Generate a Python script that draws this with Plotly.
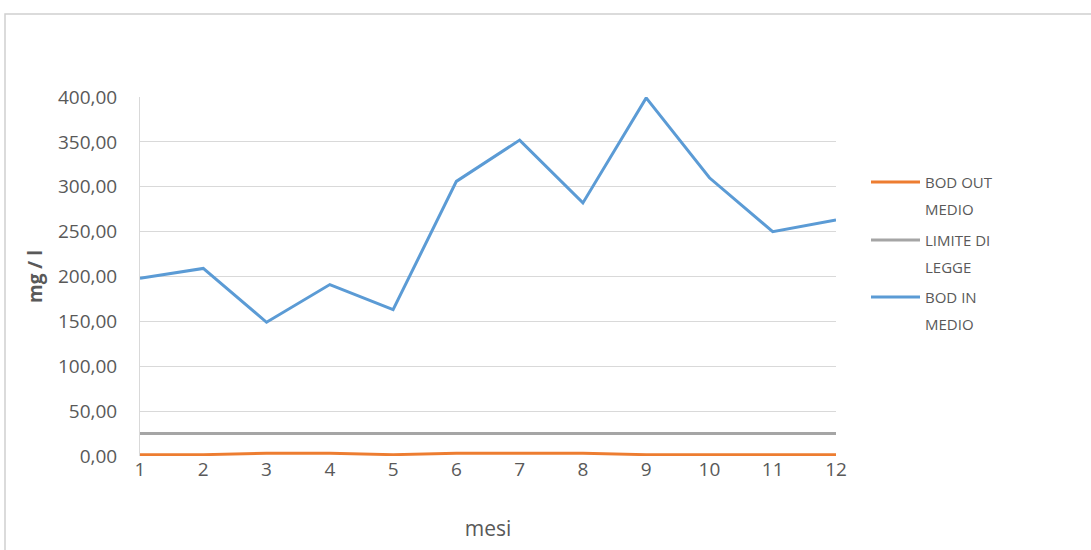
import plotly.graph_objects as go

mesi = [1, 2, 3, 4, 5, 6, 7, 8, 9, 10, 11, 12]
bod_out_medio = [1.5, 1.5, 3.0, 3.0, 1.5, 3.0, 3.0, 3.0, 1.5, 1.5, 1.5, 1.5]
limite_di_legge = [25, 25, 25, 25, 25, 25, 25, 25, 25, 25, 25, 25]
bod_in_medio = [198, 209, 149, 191, 163, 306, 352, 282, 399, 310, 250, 263]
y_ticks = [0, 50, 100, 150, 200, 250, 300, 350, 400]

series_names = [["BOD OUT", "MEDIO"], ["LIMITE DI", "LEGGE"], ["BOD IN", "MEDIO"]]
series_colors = ["#ED7D31", "#A5A5A5", "#5B9BD5"]
series_values = [bod_out_medio, limite_di_legge, bod_in_medio]

FONT = "Open Sans, sans-serif"

# plot area pixel geometry: x 140..836, y 97..456
def px(x):
    return (x - 140) / 696

def py(y):
    return (456 - y) / 359

fig = go.Figure()
for names, color, vals in zip(series_names, series_colors, series_values):
    fig.add_trace(go.Scatter(x=mesi, y=vals, mode="lines", name=" ".join(names),
                             line=dict(color=color, width=3), showlegend=False))

shapes = [dict(type="rect", xref="paper", yref="paper",
               x0=px(5), x1=px(1100), y0=py(560), y1=py(14),
               line=dict(color="#D0D0D0", width=1.5), fillcolor="rgba(0,0,0,0)", layer="below")]
annotations = []
legend_rows = [182, 240, 297]
for names, color, row in zip(series_names, series_colors, legend_rows):
    shapes.append(dict(type="line", xref="paper", yref="paper",
                       x0=px(871), x1=px(920), y0=py(row), y1=py(row),
                       line=dict(color=color, width=3)))
    for i, t in enumerate(names):
        annotations.append(dict(xref="paper", yref="paper", x=px(923), y=py(row + 27 * i),
                                xanchor="left", yanchor="middle", text=t, showarrow=False,
                                font=dict(size=15, color="#595959", family=FONT)))

fig.update_layout(
    width=1091, height=550,
    margin=dict(l=140, r=255, t=97, b=94),
    paper_bgcolor="white", plot_bgcolor="white",
    separators=",.",
    font=dict(family=FONT, color="#595959", size=18),
    showlegend=False,
    xaxis=dict(range=[1, 12], tickvals=mesi, showgrid=False, zeroline=False,
               showline=False, ticks="", tickfont=dict(size=19),
               title=dict(text="mesi", font=dict(size=21, color="#595959"), standoff=40)),
    yaxis=dict(range=[0, 400], tickvals=y_ticks, tickformat=".2f",
               showgrid=True, gridcolor="#D9D9D9", gridwidth=1, zeroline=False,
               showline=True, linecolor="#D9D9D9", ticks="", ticklabelstandoff=18,
               tickfont=dict(size=19),
               title=dict(text="<b>mg / l</b>", font=dict(size=19, color="#595959"), standoff=10)),
    shapes=shapes,
    annotations=annotations,
)

fig.write_html("out.html")
